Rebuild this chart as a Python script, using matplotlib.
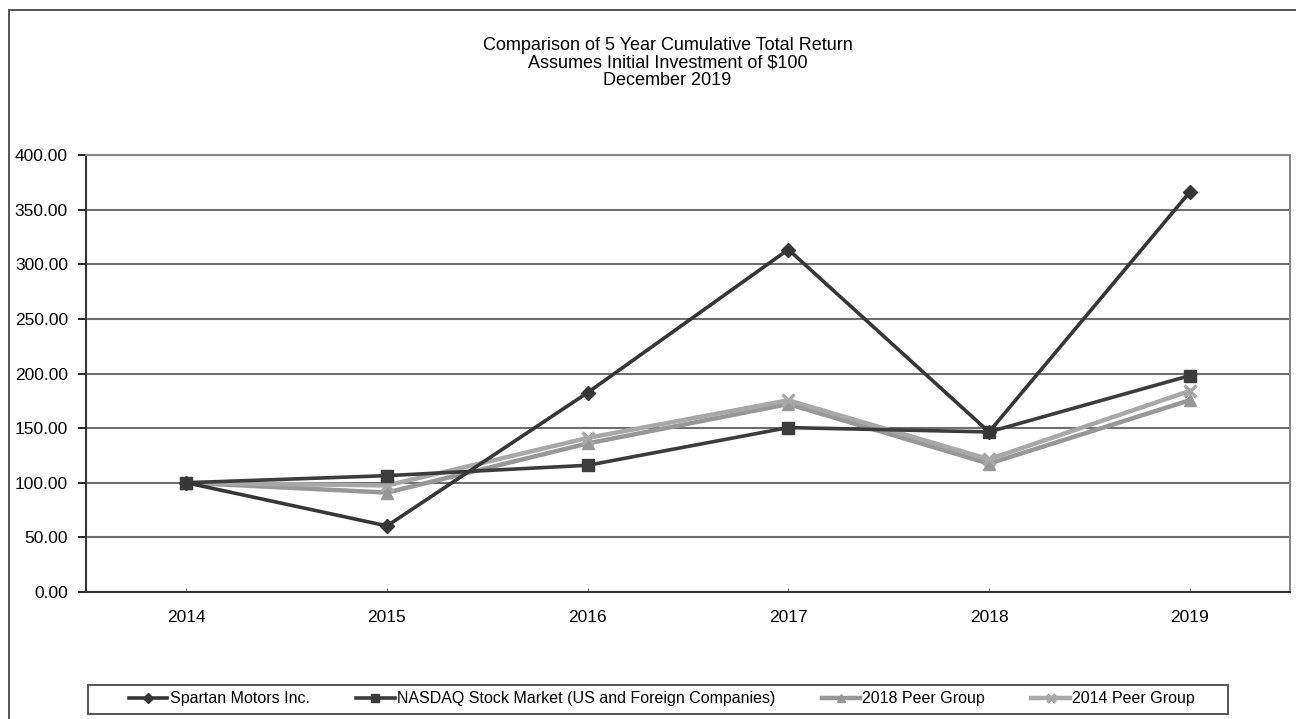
import matplotlib.pyplot as plt
from matplotlib.patches import Rectangle

# Data
years = ["2014", "2015", "2016", "2017", "2018", "2019"]
spartan = [100.00, 60.5, 182.5, 313.5, 146.5, 366.0]
nasdaq = [100.00, 106.5, 116.0, 150.5, 146.5, 198.0]
peer_2018 = [100.00, 91.0, 136.0, 172.0, 117.5, 175.5]
peer_2014 = [100.00, 97.5, 141.0, 175.5, 121.5, 184.0]
labels = ["Spartan Motors Inc.", "NASDAQ Stock Market (US and Foreign Companies)",
          "2018 Peer Group", "2014 Peer Group"]

plt.rcParams["font.family"] = ["Liberation Sans", "DejaVu Sans"]

W, H = 1296, 719
fig = plt.figure(figsize=(W / 100, H / 100), dpi=100)
ax = fig.add_axes([86 / W, 1 - 592 / H, 1204 / W, 437 / H])

x = range(len(years))
ax.plot(x, spartan, color="#363636", lw=2.6, marker="D", ms=7, label=labels[0], zorder=5)
ax.plot(x, nasdaq, color="#3c3c3c", lw=2.6, marker="s", ms=9, label=labels[1], zorder=4)
ax.plot(x, peer_2018, color="#979797", lw=3.2, marker="^", ms=9, label=labels[2], zorder=3)
ax.plot(x, peer_2014, color="#a8a8a8", lw=3.2, marker="x", ms=9, mew=2.5, label=labels[3], zorder=3)

ax.set_xlim(-0.5, len(years) - 0.5)
ax.set_ylim(0, 400)
ax.set_xticks(list(x))
ax.set_xticklabels(years, fontsize=12.5)
ax.set_yticks(range(0, 401, 50))
ax.set_yticklabels([f"{v:.2f}" for v in range(0, 401, 50)], fontsize=12.5)
ax.tick_params(axis="x", length=3, direction="in", pad=13, color="#777777")
ax.tick_params(axis="y", length=6, direction="out", width=1.2, pad=7)
ax.yaxis.grid(True, color="#6e6e6e", lw=1.5)
ax.set_axisbelow(True)
for side in ["left", "bottom"]:
    ax.spines[side].set_color("#333333")
    ax.spines[side].set_linewidth(1.5)
for side in ["top", "right"]:
    ax.spines[side].set_color("#888888")
    ax.spines[side].set_linewidth(1.5)

fig.text(0.515, 1 - 63 / H,
         "Comparison of 5 Year Cumulative Total Return\nAssumes Initial Investment of $100\nDecember 2019",
         ha="center", va="center", fontsize=13, linespacing=1.03)

leg = fig.legend(loc="center", bbox_to_anchor=(662 / W, 1 - 699 / H), ncol=4, fontsize=11.5,
                 frameon=False, handlelength=2.4, handletextpad=0.15,
                 columnspacing=2.9, markerscale=0.7)

fig.patches.append(Rectangle((88 / W, 1 - 714 / H), 1140 / W, 29 / H, transform=fig.transFigure,
                             fill=False, edgecolor="#555555", lw=1.4))
fig.patches.append(Rectangle((9 / W, -0.01), 1.0, 1 - 10 / H + 0.01, transform=fig.transFigure,
                             fill=False, edgecolor="#555555", lw=1.4))

fig.savefig("out.png", dpi=100)
